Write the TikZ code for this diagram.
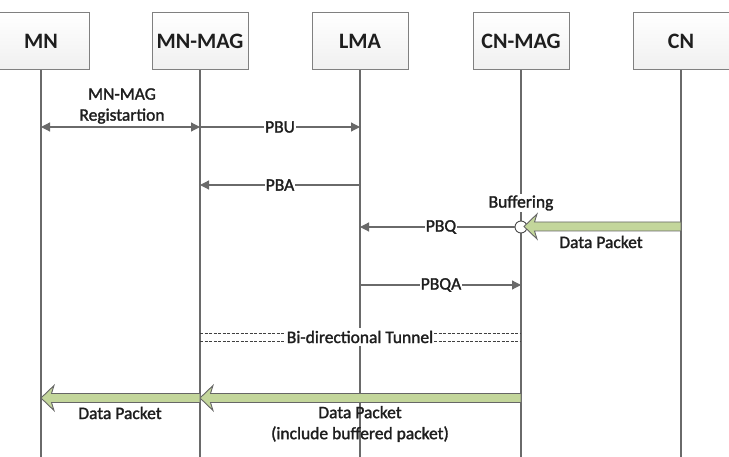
\documentclass[tikz,border=0pt]{standalone}
\usepackage{fontspec}
\setmainfont{Carlito}
\newfontfamily\lblfont[FakeBold=1.6]{Carlito}
\usetikzlibrary{arrows.meta,calc}
\definecolor{lineg}{HTML}{6A6A6A}
\definecolor{boxg}{HTML}{808080}
\definecolor{greenf}{HTML}{C3D69B}
\definecolor{txt}{HTML}{1E1E1E}
\tikzset{
  actor/.style={draw=boxg, line width=1pt, top color=white, bottom color=black!6,
    minimum width=96pt, minimum height=57pt, inner sep=0pt,
    font=\fontsize{22}{24}\selectfont\bfseries, text=txt},
  lifeline/.style={draw=lineg, line width=1.3pt},
  msg/.style={draw=lineg, line width=1.2pt, -{Triangle[length=9pt,width=9pt]}},
  dmsg/.style={draw=lineg, line width=1.2pt, {Triangle[length=9pt,width=9pt]}-{Triangle[length=9pt,width=9pt]}},
  lbl/.style={font=\lblfont\fontsize{17.5}{22}\selectfont, text=txt, inner sep=1pt},
  wlbl/.style={lbl, fill=white},
  tunnel/.style={draw=black!75, line width=0.9pt, dash pattern=on 3pt off 1.5pt},
  garrow/.style={fill=greenf, draw=black!60, line width=0.9pt, line join=miter},
}
\begin{document}
\begin{tikzpicture}[x=1pt,y=-1pt]
\useasboundingbox (0,0) rectangle (729,457);
\begin{scope}
\clip (0,0) rectangle (729,457);
% actors
\node[actor] (mn)    at (41,41.5)  {MN};
\node[actor] (mnmag) at (200,41.5) {MN-MAG};
\node[actor] (lma)   at (360,41.5) {LMA};
\node[actor] (cnmag) at (521,41.5) {CN-MAG};
\node[actor] (cn)    at (681,41.5) {CN};
% lifeline ends
\coordinate (mnE) at (41,460);
\coordinate (mnmagE) at (200,460);
\coordinate (lmaE) at (360,460);
\coordinate (cnmagE) at (521,460);
\coordinate (cnE) at (681,460);
\draw[lifeline] (mn.south) -- (mnE);
\draw[lifeline] (mnmag.south) -- (mnmagE);
\draw[lifeline] (lma.south) -- (lmaE);
\draw[lifeline] (cnmag.south) -- (cnmagE);
\draw[lifeline] (cn.south) -- (cnE);
\end{scope}
% message points
\coordinate (mn1) at (41,127); \coordinate (mag1) at (200,127); \coordinate (lma1) at (360,127);
\coordinate (mag2) at (200,185); \coordinate (lma2) at (360,185);
\coordinate (lma3) at (360,227); \coordinate (cnmag3) at (521,227); \coordinate (cn3) at (681,226.5);
\coordinate (lma4) at (360,285); \coordinate (cnmag4) at (521,285);
\coordinate (mag5a) at (200,333); \coordinate (cnmag5a) at (521,333);
\coordinate (mag5b) at (200,341); \coordinate (cnmag5b) at (521,341);
\coordinate (mnsix) at (41,398); \coordinate (magsix) at (200,398); \coordinate (cnmagsix) at (521,398);
% MN-MAG registration
\draw[dmsg] (mn1) -- (mag1);
\node[lbl, align=center] (reg) at (122,106) {MN-MAG\\[-1pt]Registartion};
% PBU
\draw[msg] (mag1) -- (lma1);
\node[wlbl] (pbu) at (280,127) {PBU};
% PBA
\draw[msg] (lma2) -- (mag2);
\node[wlbl] (pba) at (280,185) {PBA};
% Buffering
\node[wlbl] (buf) at (521,203) {Buffering};
\node[circle, draw=black!70, fill=white, line width=0.9pt, minimum size=12pt, inner sep=0pt] (bufc) at (cnmag3) {};
\draw[msg] (bufc.west) -- (lma3);
\node[wlbl] (pbq) at (441,227) {PBQ};
\coordinate (tipA) at (524,226.5);
\filldraw[garrow] (tipA) -- ($(tipA)+(13,12.5)$) -- ($(tipA)+(10.5,4.5)$) -- ($(cn3)+(0,4.5)$)
   -- ($(cn3)+(0,-4.5)$) -- ($(tipA)+(10.5,-4.5)$) -- ($(tipA)+(13,-12.5)$) -- cycle;
\node[lbl] (dp1) at (601,242) {Data Packet};
% PBQA
\draw[msg] (lma4) -- (cnmag4);
\node[wlbl] (pbqa) at (441,285) {PBQA};
% Tunnel
\draw[tunnel] (mag5a) -- (cnmag5a);
\draw[tunnel] (mag5b) -- (cnmag5b);
\node[wlbl, inner ysep=3pt] (tun) at (360,337) {Bi-directional Tunnel};
% Data packets
\filldraw[garrow] (magsix) -- ($(magsix)+(13,12.5)$) -- ($(magsix)+(10.5,4.5)$) -- ($(cnmagsix)+(0,4.5)$)
   -- ($(cnmagsix)+(0,-4.5)$) -- ($(magsix)+(10.5,-4.5)$) -- ($(magsix)+(13,-12.5)$) -- cycle;
\filldraw[garrow] (mnsix) -- ($(mnsix)+(13,12.5)$) -- ($(mnsix)+(10.5,4.5)$) -- ($(magsix)+(0,4.5)$)
   -- ($(magsix)+(0,-4.5)$) -- ($(mnsix)+(10.5,-4.5)$) -- ($(mnsix)+(13,-12.5)$) -- cycle;
\node[lbl] (dp2) at (120,413) {Data Packet};
\node[lbl, align=center] (dp3) at (360,424) {Data Packet\\[-1pt](include buffered packet)};
\end{tikzpicture}
\end{document}
